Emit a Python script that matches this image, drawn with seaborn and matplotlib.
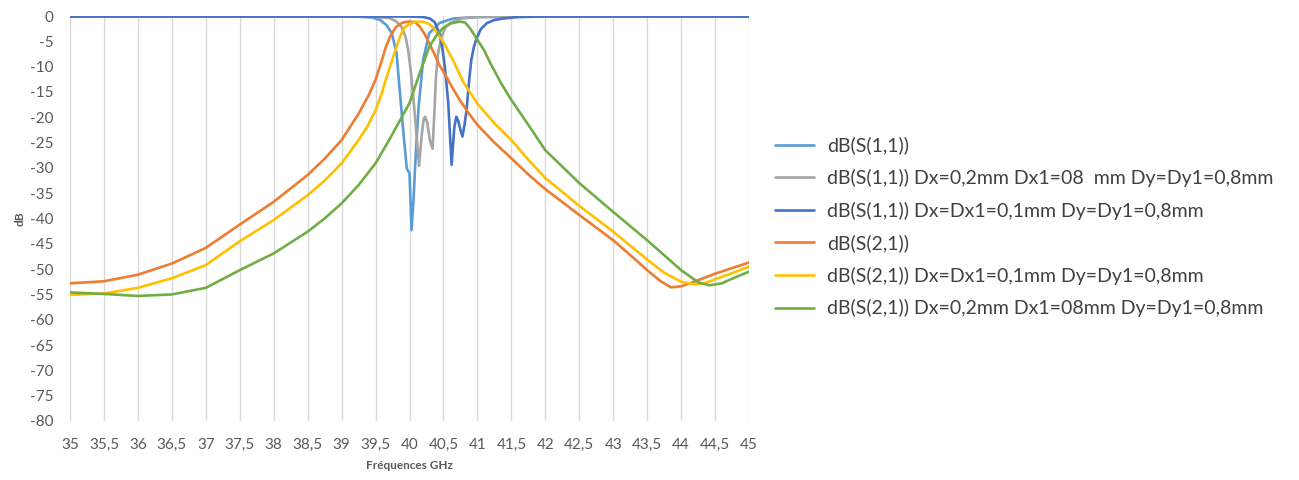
import numpy as np
import pandas as pd
import matplotlib
matplotlib.use('Agg')
import matplotlib.pyplot as plt
import seaborn as sns

# S-parameters (frequency in GHz, value in dB)
f_s11 = [35, 36, 37, 38, 39, 39.3, 39.45, 39.57, 39.66, 39.74, 39.81, 39.86, 39.92, 39.96,
         40.0, 40.03, 40.06, 40.08, 40.13, 40.2, 40.29, 40.44, 40.64, 41, 42, 43, 44, 45]
s11 = [-0.1, -0.1, -0.1, -0.1, -0.1, -0.15, -0.3, -0.8, -1.8, -3.4, -7.4, -15.3, -24.5, -30.1,
       -31.1, -42.3, -36, -30.4, -18.6, -8.7, -3.4, -1.4, -0.5, -0.2, -0.1, -0.1, -0.1, -0.1]

f_s11_02 = [35, 37, 39, 39.5, 39.7, 39.8, 39.88, 39.94, 39.98, 40.02, 40.06, 40.1, 40.14, 40.18,
            40.21, 40.23, 40.26, 40.3, 40.34, 40.37, 40.39, 40.42, 40.47, 40.53, 40.6, 40.75, 41, 42, 45]
s11_02 = [-0.1, -0.1, -0.1, -0.2, -0.4, -1.0, -2.1, -4.0, -6.7, -11, -16.6, -23, -29.6, -23.5,
          -20.3, -19.9, -21, -24.5, -26.2, -18, -12, -7.5, -4.1, -2.2, -1.4, -0.5, -0.2, -0.1, -0.1]

f_s11_01 = [35, 37, 39, 40, 40.2, 40.3, 40.37, 40.44, 40.48, 40.52, 40.57, 40.62, 40.66, 40.69,
            40.72, 40.75, 40.78, 40.81, 40.84, 40.88, 40.91, 40.95, 40.99, 41.05, 41.14, 41.25,
            41.38, 41.6, 42, 45]
s11_01 = [-0.1, -0.1, -0.1, -0.1, -0.2, -0.5, -1.2, -3.4, -6.0, -10, -17, -29.4, -22, -19.9,
          -20.8, -22.5, -23.8, -21.5, -18.6, -12.5, -8.7, -6, -4.4, -2.6, -1.4, -0.8,
          -0.5, -0.2, -0.1, -0.1]

f_s21 = [35, 35.5, 36, 36.5, 37, 37.5, 38, 38.5, 38.75, 39, 39.25, 39.4, 39.5, 39.58, 39.65,
         39.72, 39.8, 39.87, 39.93, 40.0, 40.08, 40.15, 40.22, 40.29, 40.37, 40.44, 40.5, 40.62,
         40.74, 40.87, 41, 41.25, 41.5, 41.75, 42, 42.5, 43, 43.25, 43.5, 43.7, 43.85, 44, 44.25,
         44.5, 44.75, 45]
s21 = [-52.8, -52.4, -51.1, -48.9, -45.8, -41.2, -36.7, -31.4, -28.2, -24.5, -19.3, -15.6,
       -12.6, -9.3, -6.2, -3.9, -2.2, -1.5, -1.2, -1.1, -1.2, -2.1, -3.5, -5.4, -7.6, -9.7,
       -11.0, -13.9, -16.6, -19.2, -21.5, -25.0, -28.1, -31.3, -34.2, -39.3, -44.3, -47.2,
       -50.2, -52.4, -53.6, -53.4, -52.2, -50.9, -49.8, -48.7]

f_s21_01 = [35, 35.5, 36, 36.5, 37, 37.5, 38, 38.5, 38.75, 39, 39.25, 39.38, 39.5, 39.58, 39.65,
            39.75, 39.8, 39.85, 39.89, 39.93, 40.0, 40.08, 40.15, 40.22, 40.29, 40.36, 40.43,
            40.5, 40.64, 40.79, 41, 41.25, 41.5, 41.75, 42, 42.5, 43, 43.5, 43.75, 44, 44.2,
            44.35, 44.5, 44.75, 45]
s21_01 = [-55.1, -54.8, -53.7, -51.8, -49.2, -44.5, -40.3, -35.4, -32.5, -29.1, -24.5, -21.8,
          -18.6, -15.8, -12.6, -8.5, -6.4, -4.5, -3.2, -2.2, -1.6, -1.2, -1.1, -1.2, -1.6, -2.4,
          -3.8, -5.2, -8.7, -13, -17.3, -21.2, -24.5, -28.4, -32.0, -37.5, -42.6, -48.1, -50.7,
          -52.5, -53.0, -52.8, -52.0, -50.8, -49.5]

f_s21_02 = [35, 35.5, 36, 36.5, 37, 37.5, 38, 38.5, 38.75, 39, 39.25, 39.5, 39.7, 39.86, 40.0,
            40.15, 40.29, 40.4, 40.49, 40.6, 40.74, 40.82, 40.89, 41.0, 41.1, 41.19, 41.35, 41.5,
            41.75, 42, 42.5, 43, 43.5, 44, 44.25, 44.42, 44.6, 44.8, 45]
s21_02 = [-54.6, -54.9, -55.3, -55.0, -53.7, -50.2, -46.9, -42.6, -40.0, -37.0, -33.4, -29.1,
          -24.5, -20.6, -17.2, -11.3, -6.1, -3.8, -2.4, -1.5, -1.1, -1.3, -2.4, -4.7, -6.8, -9.3,
          -13.3, -16.6, -21.5, -26.5, -33.0, -38.7, -44.3, -50.2, -52.6, -53.2, -52.8, -51.6, -50.5]

labels = ['dB(S(1,1))',
          'dB(S(1,1)) Dx=0,2mm Dx1=08  mm Dy=Dy1=0,8mm',
          'dB(S(1,1)) Dx=Dx1=0,1mm Dy=Dy1=0,8mm',
          'dB(S(2,1))',
          'dB(S(2,1)) Dx=Dx1=0,1mm Dy=Dy1=0,8mm',
          'dB(S(2,1)) Dx=0,2mm Dx1=08mm Dy=Dy1=0,8mm']
colors = ['#5B9BD5', '#A5A5A5', '#4472C4', '#ED7D31', '#FFC000', '#70AD47']
x_ticks = [35 + 0.5 * i for i in range(21)]
y_ticks = list(range(0, -85, -5))

freqs = [f_s11, f_s11_02, f_s11_01, f_s21, f_s21_01, f_s21_02]
vals = [s11, s11_02, s11_01, s21, s21_01, s21_02]
df = pd.concat([pd.DataFrame({'f': f, 'dB': v, 'serie': lab})
                for f, v, lab in zip(freqs, vals, labels)], ignore_index=True)

sns.set_style('white')
plt.rcParams['font.family'] = ['Lato', 'DejaVu Sans']
txt = '#595959'

fig = plt.figure(figsize=(12.99, 4.8), dpi=100)
ax = fig.add_axes([70 / 1299, 1 - 421 / 480, 679 / 1299, 405 / 480])

sns.lineplot(data=df, x='f', y='dB', hue='serie', hue_order=labels,
             palette=dict(zip(labels, colors)), estimator=None, linewidth=1.9, ax=ax)

ax.set_xlim(35, 45)
ax.set_ylim(-80, 0)
ax.set_xticks(x_ticks)
ax.set_xticklabels([('%g' % t).replace('.', ',') for t in x_ticks])
ax.set_yticks(y_ticks)
ax.set_yticklabels([str(t) for t in y_ticks])
ax.grid(axis='x', color='#D9D9D9', linewidth=1)
ax.set_axisbelow(True)
for s in ax.spines.values():
    s.set_visible(False)
ax.tick_params(length=0, labelsize=11, colors=txt)
ax.tick_params(axis='x', pad=12)
ax.tick_params(axis='y', pad=12)
ax.set_xlabel('Fréquences GHz', fontsize=8.5, color=txt, fontweight='bold', labelpad=6)
ax.set_ylabel('dB', fontsize=8.5, color=txt, fontweight='bold', labelpad=3)

handles, labs = ax.get_legend_handles_labels()
ax.get_legend().remove()
fig.legend(handles, labs, loc='center left', bbox_to_anchor=(757 / 1299, 1 - 227 / 480),
           frameon=False, fontsize=14, labelcolor='#404040', handlelength=2.05,
           handletextpad=0.65, labelspacing=0.75)

plt.savefig('out.png', dpi=100)
